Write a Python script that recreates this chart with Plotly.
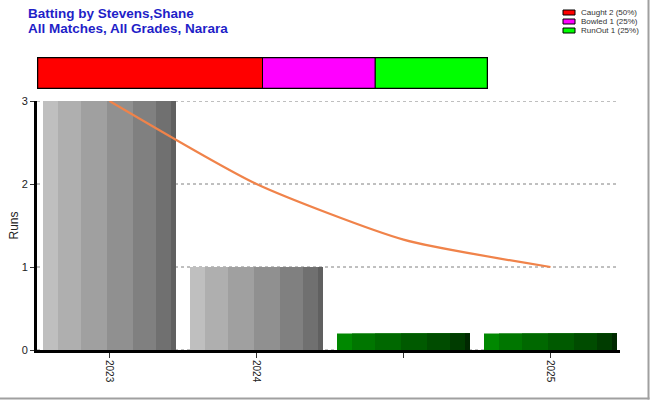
import plotly.graph_objects as go

# ---------------- data ----------------
seasons = ["2023", "2024", "", "2025"]
runs = [3, 1, 0, 0]
running_avg = [3.0, 2.0, 1.33, 1.0]
dismissal_types = ["Caught", "Bowled", "RunOut"]
dismissal_counts = [2, 1, 1]
y_ticks = [0, 1, 2, 3]

# ---------------- styles ----------------
W, H = 650, 400
ML, MR, MT, MB = 37, 30, 50, 50
PW, PH = W - ML - MR, H - MT - MB
MAIN_TOP = 101  # screen pixel of y=3


def px_x(X):
    return (X - ML) / PW


def px_y(Y):
    return (H - MB - Y) / PH


slot = 147.0
bar_px = 133.0
bar_center_px = 109.5
stripe_px = [15, 23, 26, 26, 23, 15, 5]
gray_cols = ["#bfbfbf", "#afafaf", "#a0a0a0", "#909090", "#808080", "#707070", "#606060"]
green_cols = ["#008800", "#007600", "#006800", "#005a00", "#004c00", "#003c00", "#002800"]
zero_bar_height = 0.2
dis_colors = ["#ff0000", "#ff00ff", "#00ff00"]
title_color = "#1f1fc8"

xs = list(range(len(seasons)))
heights = [r if r > 0 else zero_bar_height for r in runs]

fig = go.Figure()

cum = 0
for k, w in enumerate(stripe_px):
    cols = [gray_cols[k] if r > 0 else green_cols[k] for r in runs]
    fig.add_trace(go.Bar(
        x=xs, y=heights, width=(bar_px - cum) / slot, offset=(cum - bar_px / 2) / slot,
        marker=dict(color=cols, line=dict(width=0)),
        showlegend=False, hoverinfo="skip", xaxis="x", yaxis="y"))
    cum += w

fig.add_trace(go.Scatter(
    x=xs, y=running_avg, mode="lines",
    line=dict(color="#f0834a", width=2.2, shape="spline", smoothing=0.6),
    showlegend=False, xaxis="x", yaxis="y"))

# top stacked dismissal bar
total = sum(dismissal_counts)
base = 0
for t, c, col in zip(dismissal_types, dismissal_counts, dis_colors):
    fig.add_trace(go.Bar(
        x=[c], y=[0], base=[base], orientation="h", width=1,
        marker=dict(color=col, line=dict(color="black", width=1)),
        showlegend=False, xaxis="x2", yaxis="y2", hoverinfo="skip"))
    base += c

x_left = -(bar_center_px - ML) / slot
x_right = (ML + PW - bar_center_px) / slot

fig.update_layout(
    width=W, height=H,
    margin=dict(l=ML, r=MR, t=MT, b=MB, autoexpand=False),
    paper_bgcolor="white", plot_bgcolor="white",
    barmode="overlay",
    font=dict(family="Liberation Sans, Arial, sans-serif", color="#222"),
    xaxis=dict(
        domain=[0, 1], range=[x_left, x_right], anchor="y", automargin=False,
        tickmode="array", tickvals=xs, ticktext=seasons, tickangle=90,
        ticks="outside", ticklen=5, tickcolor="#333", tickfont=dict(size=10, color="#222"),
        showline=True, linecolor="black", linewidth=3, showgrid=False, zeroline=False,
    ),
    yaxis=dict(
        domain=[0, px_y(MAIN_TOP)], range=[0, 3], anchor="x", automargin=False,
        tickmode="array", tickvals=y_ticks,
        ticks="outside", ticklen=4, tickcolor="#333", tickfont=dict(size=11, color="#222"),
        showline=True, linecolor="black", linewidth=3,
        showgrid=False, zeroline=False,
        title=dict(text="Runs", font=dict(size=12, color="#222"), standoff=1),
    ),
    xaxis2=dict(domain=[0, px_x(488)], range=[0, total], anchor="y2", visible=False),
    yaxis2=dict(domain=[px_y(89), px_y(57)], range=[-0.5, 0.5], anchor="x2", visible=False),
)

shapes = [
    dict(type="rect", xref="x2", yref="y2", x0=0, x1=total, y0=-0.5, y1=0.5,
         line=dict(color="black", width=2.5), fillcolor="rgba(0,0,0,0)"),
    # outer frame (right/bottom gray edge)
    dict(type="line", xref="paper", yref="paper", x0=px_x(648.5), x1=px_x(648.5), y0=px_y(0), y1=px_y(399.5),
         line=dict(color="#a0a0a0", width=2)),
    dict(type="line", xref="paper", yref="paper", x0=px_x(0), x1=px_x(649.5), y0=px_y(398.5), y1=px_y(398.5),
         line=dict(color="#a0a0a0", width=2)),
]
for v in y_ticks:
    shapes.append(dict(type="line", xref="paper", yref="y", x0=0, x1=px_x(617), y0=v, y1=v,
                       layer="below", line=dict(color="#808080", width=1, dash="3px,3px")))

title_font = dict(size=13.5, color=title_color,
                  family="Liberation Sans Narrow, Arial Narrow, Liberation Sans, Arial, sans-serif")
annotations = [
    dict(text="<b>Batting by Stevens,Shane</b>", xref="paper", yref="paper", x=px_x(26), y=px_y(14),
         xanchor="left", yanchor="middle", showarrow=False, font=title_font),
    dict(text="<b>All Matches, All Grades, Narara</b>", xref="paper", yref="paper", x=px_x(26), y=px_y(29),
         xanchor="left", yanchor="middle", showarrow=False, font=title_font),
]
for i, (t, c, col) in enumerate(zip(dismissal_types, dismissal_counts, dis_colors)):
    yc = 12.5 + 9 * i
    shapes.append(dict(type="rect", xref="paper", yref="paper",
                       x0=px_x(563), x1=px_x(575), y0=px_y(yc - 2.5), y1=px_y(yc + 2.5),
                       fillcolor=col, line=dict(color="black", width=1)))
    pct = round(100 * c / total)
    annotations.append(dict(text=f"{t} {c} ({pct}%)", xref="paper", yref="paper",
                            x=px_x(579), y=px_y(yc), xanchor="left", yanchor="middle",
                            showarrow=False, font=dict(size=8, color="#333")))

fig.update_layout(shapes=shapes, annotations=annotations)
fig.write_html("out.html", config={"displayModeBar": False},
               post_script="document.body.style.margin='0';document.body.style.overflow='hidden';")
